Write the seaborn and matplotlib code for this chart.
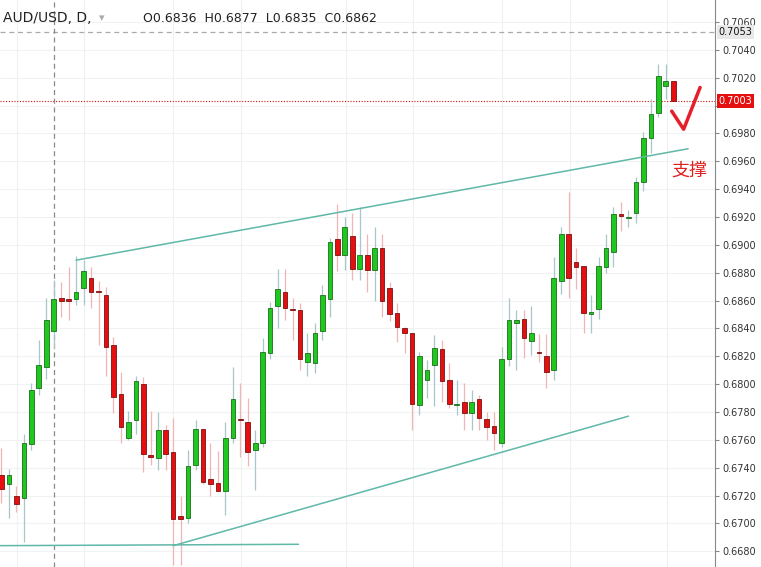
import matplotlib
matplotlib.use("Agg")
import matplotlib.pyplot as plt
import seaborn as sns
import numpy as np
import pandas as pd

opens = [.6735,.6728,.6720,.6718,.6757,.6797,.6812,.6838,.6862,.6861,.6861,.6869,.6876,.6867,.6864,.6828,.6793,.6761,.6774,.6800,
         .6749,.6747,.6767,.6751,.6705,.6704,.6742,.6768,.6732,.6729,.6723,.6761,.6775,.6773,.6753,.6758,.6822,.6856,.6866,.6854,
         .6853,.6816,.6815,.6838,.6861,.6904,.6893,.6906,.6883,.6893,.6882,.6898,.6869,.6851,.6840,.6837,.6785,.6803,.6814,.6825,
         .6803,.6785,.6787,.6779,.6789,.6775,.6770,.6758,.6818,.6844,.6847,.6831,.6823,.6820,.6810,.6874,.6908,.6888,.6885,.6850,
         .6854,.6884,.6895,.6922,.6919,.6923,.6945,.6977,.6995,.7014,.7018]
highs = [.6754,.6739,.6727,.6764,.6801,.6832,.6862,.6875,.6873,.6884,.6892,.6889,.6884,.6874,.6870,.6834,.6809,.6781,.6806,.6805,
         .6781,.6780,.6771,.6776,.6720,.6753,.6774,.6768,.6758,.6752,.6773,.6812,.6801,.6790,.6767,.6833,.6859,.6883,.6883,.6862,
         .6858,.6837,.6844,.6871,.6905,.6929,.6920,.6923,.6927,.6908,.6913,.6908,.6873,.6858,.6841,.6837,.6823,.6817,.6835,.6832,
         .6815,.6803,.6801,.6796,.6792,.6780,.6780,.6827,.6862,.6853,.6853,.6856,.6836,.6836,.6891,.6913,.6938,.6898,.6885,.6864,
         .6891,.6908,.6927,.6931,.6925,.6949,.6981,.7005,.7030,.7030,.7018]
lows = [.6715,.6704,.6708,.6687,.6753,.6792,.6804,.6825,.6848,.6846,.6857,.6857,.6855,.6828,.6806,.6779,.6758,.6760,.6764,.6737,
        .6742,.6738,.6738,.6670,.6670,.6700,.6738,.6728,.6720,.6723,.6706,.6758,.6748,.6741,.6724,.6755,.6818,.6840,.6846,.6832,
        .6810,.6806,.6808,.6832,.6848,.6881,.6882,.6875,.6875,.6866,.6860,.6848,.6845,.6830,.6822,.6767,.6778,.6790,.6784,.6787,
        .6783,.6778,.6767,.6767,.6767,.6760,.6753,.6755,.6813,.6810,.6819,.6821,.6816,.6797,.6803,.6865,.6862,.6868,.6837,.6837,
        .6847,.6880,.6884,.6910,.6913,.6916,.6939,.6966,.6992,.7005,.7003]
closes = [.6725,.6735,.6714,.6758,.6796,.6814,.6846,.6861,.6860,.6860,.6866,.6881,.6866,.6866,.6827,.6791,.6769,.6773,.6802,.6750,
          .6748,.6767,.6750,.6703,.6703,.6741,.6768,.6730,.6728,.6723,.6761,.6789,.6774,.6751,.6758,.6823,.6855,.6868,.6855,.6853,
          .6818,.6822,.6837,.6864,.6902,.6893,.6913,.6883,.6893,.6882,.6898,.6860,.6850,.6841,.6837,.6786,.6820,.6810,.6826,.6802,
          .6786,.6786,.6779,.6787,.6776,.6769,.6765,.6818,.6846,.6846,.6833,.6837,.6822,.6809,.6876,.6908,.6876,.6884,.6851,.6852,
          .6885,.6898,.6922,.6921,.6920,.6945,.6977,.6994,.7021,.7018,.7003]

upper_x = [10.0, 92.0]; upper_y = [0.6889, 0.6969]
lower_x = [23.0, 84.0]; lower_y = [0.6684, 0.6777]
base_x = [-1.0, 39.8]; base_y = [0.6684, 0.6685]
check_x = [89.8, 91.4, 93.6]; check_y = [0.6996, 0.6983, 0.7013]
month_x = [2.1, 11.1, 23.0, 32.1, 46.1, 55.2, 67.1, 76.2, 89.2]
yticks = [0.6680 + 0.002 * i for i in range(20)]
last_price = 0.7003
high_mark = 0.7053
cross_x = 7.1

sns.set_style("white")
plt.rcParams['font.family'] = ['DejaVu Sans', 'Noto Sans CJK SC']

fig = plt.figure(figsize=(7.61, 5.67), dpi=100)
ax = fig.add_axes([0, 0, 715/761, 1])
n = len(opens)
idx = np.arange(n)
df = pd.DataFrame(dict(i=idx, o=opens, h=highs, l=lows, c=closes))
up = df[df.c >= df.o]; dn = df[df.c < df.o]

for y in yticks:
    ax.axhline(y, color="#f0f2f3", lw=0.8, zorder=0)
for x in month_x:
    ax.axvline(x, color="#eef1f2", lw=0.8, zorder=0)

ax.vlines(up.i, up.l, up.h, color="#a9c7c9", lw=0.9, zorder=2)
ax.vlines(dn.i, dn.l, dn.h, color="#f1b5b5", lw=0.9, zorder=2)
ax.bar(up.i, np.maximum(up.c - up.o, 0.00005), bottom=up.o, width=0.62, color="#1ec81e", edgecolor="#1b6e1b", lw=0.6, zorder=3)
ax.bar(dn.i, np.maximum(dn.o - dn.c, 0.00005), bottom=dn.c, width=0.62, color="#e60f0f", edgecolor="#7a1010", lw=0.6, zorder=3)

for xs, ys in [(upper_x, upper_y), (lower_x, lower_y), (base_x, base_y)]:
    sns.lineplot(x=xs, y=ys, ax=ax, color="#5fb8a8", lw=1.1, zorder=4)
sns.lineplot(x=check_x, y=check_y, ax=ax, color="#e5202a", lw=2.5, zorder=5, sort=False)

ax.axhline(high_mark, color="#aaaaaa", lw=0.9, ls=(0, (4, 3)), zorder=1)
ax.axhline(last_price, color="#d01010", lw=0.8, ls=(0, (1, 1.5)), zorder=1)
ax.axvline(cross_x, color="#888888", lw=0.9, ls=(0, (4, 3)), zorder=1)

ax.text(89.7, 0.6953, "支撑", color="#e02020", fontsize=13, family=['Noto Sans CJK SC'], va="center")

ax.set_xlim(-0.2, 95.6)
ax.set_ylim(0.66687, 0.70758)
ax.yaxis.tick_right()
ax.set_yticks(yticks)
ax.set_yticklabels(["" if abs(v - 0.7000) < 1e-6 else f"{v:.4f}" for v in yticks], fontsize=7, color="#333333")
ax.tick_params(axis="y", length=3, color="#888888", pad=2)
ax.set_xticks([])
for s in ["top", "left", "bottom"]:
    ax.spines[s].set_visible(False)
ax.spines["right"].set_color("#888888")

for v, fc, tc in [(high_mark, "#e8e8e8", "#111111"), (last_price, "#e60f0f", "white")]:
    ax.text(1.005, v, f"{v:.4f}", transform=ax.get_yaxis_transform(), fontsize=7, color=tc,
            va="center", ha="left", bbox=dict(boxstyle="square,pad=0.2", fc=fc, ec="none"), zorder=10)

fig.text(0.004, 0.968, "AUD/USD, D,", fontsize=10, color="#222222", va="center")
fig.text(0.13, 0.968, "▾  ", fontsize=8, color="#aaaaaa", va="center")
fig.text(0.188, 0.968, "O0.6836  H0.6877  L0.6835  C0.6862", fontsize=9, color="#222222", va="center")

fig.savefig("out.png", dpi=100)
